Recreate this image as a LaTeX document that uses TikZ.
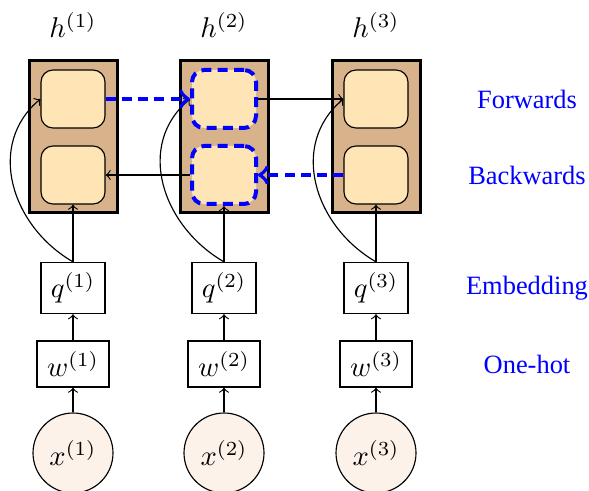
\documentclass[tikz,border=0pt]{standalone}
\usepackage{fontspec}
\newfontfamily\lblfont{Liberation Serif}
\definecolor{outerc}{RGB}{216,178,138}
\definecolor{innerc}{RGB}{255,228,181}
\definecolor{circc}{RGB}{252,242,234}
\begin{document}
\begin{tikzpicture}[x=0.35pt,y=0.35pt,
  outerbox/.style={draw, line width=1.05pt, fill=outerc, minimum width=30.8pt, minimum height=53.2pt, inner sep=0pt},
  cellbox/.style={draw, fill=innerc, rounded corners=4.2pt, minimum width=22.4pt, minimum height=20.3pt, inner sep=0pt},
  hotcell/.style={cellbox, draw=blue, line width=1.4pt, dash pattern=on 3.5pt off 2.2pt},
  embbox/.style={draw, minimum width=22.4pt, minimum height=17.9pt, inner sep=0pt},
  onehotbox/.style={draw, minimum width=25.2pt, minimum height=16.1pt, inner sep=0pt},
  inputnode/.style={circle, draw, fill=circc, minimum size=28pt, inner sep=0pt},
  lbl/.style={text=blue, font=\lblfont\fontsize{9.25}{11}\selectfont},
  arr/.style={->},
  blarr/.style={->, blue, line width=1.4pt, dash pattern=on 3.5pt off 2.2pt},
  curvarr/.style={->, out=150, in=220, looseness=1.1}]
\useasboundingbox (0,0) rectangle (589,490);
% columns
\foreach \i/\cx in {1/73,2/224,3/376}{
  \node[outerbox] (o\i) at (\cx,353) {};
  \node (h\i) at (\cx,465) {$h^{(\i)}$};
  \node[embbox] (q\i) at (\cx,202) {$q^{(\i)}$};
  \node[onehotbox] (w\i) at (\cx,126) {$w^{(\i)}$};
  \node[inputnode] (x\i) at (\cx,37) {$x^{(\i)}$};
}
\node[cellbox] (f1) at (73,391) {};
\node[cellbox] (b1) at (73,315) {};
\node[hotcell] (f2) at (224,391) {};
\node[hotcell] (b2) at (224,315) {};
\node[cellbox] (f3) at (376,391) {};
\node[cellbox] (b3) at (376,315) {};
% vertical arrows
\foreach \i in {1,2,3}{
  \draw[arr] (x\i) -- (w\i);
  \draw[arr] (w\i) -- (q\i);
  \draw[arr] (q\i.north) -- (b\i.south);
  \draw[curvarr] (q\i.north) to (f\i.west);
}
% recurrent arrows
\draw[blarr] (f1.east) -- (f2.west);
\draw[arr] (f2.east) -- (f3.west);
\draw[blarr] (b3.west) -- (b2.east);
\draw[arr] (b2.west) -- (b1.east);
% labels
\node[lbl] (lf) at (527,391) {Forwards};
\node[lbl] (lb) at (527,315) {Backwards};
\node[lbl] (le) at (527,202) {Embedding};
\node[lbl] (lo) at (527,126) {One-hot};
\end{tikzpicture}
\end{document}
